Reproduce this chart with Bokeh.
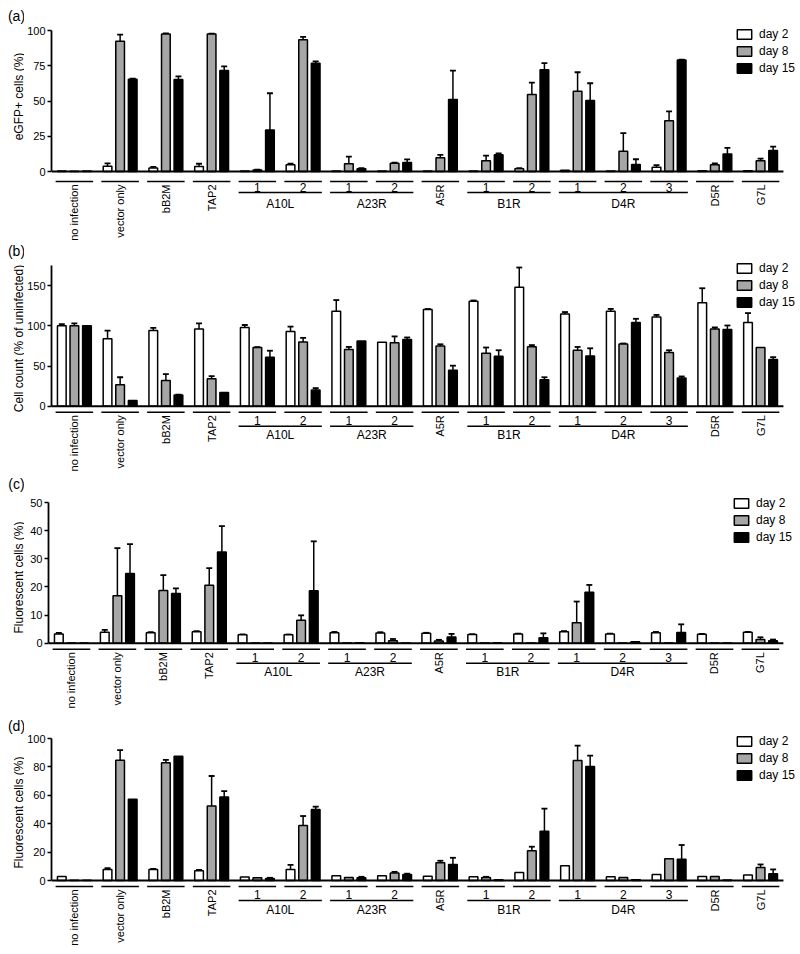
import numpy as np
from bokeh.plotting import figure
from bokeh.models import Range1d, FixedTicker, Legend, LegendItem, ColumnDataSource
from bokeh.layouts import column, row
from bokeh.embed import file_html
from bokeh.resources import INLINE
from bokeh.core.properties import value

# ---------------- data ----------------
categories = ["no infection", "vector only", "bB2M", "TAP2", "1", "2", "1", "2", "A5R",
              "1", "2", "1", "2", "3", "D5R", "G7L"]
parents = ["", "", "", "", "A10L", "A10L", "A23R", "A23R", "",
           "B1R", "B1R", "D4R", "D4R", "D4R", "", ""]
series_names = ["day 2", "day 8", "day 15"]
series_colors = ["#ffffff", "#a6a6a6", "#000000"]

# (a) eGFP+ cells (%)
a_d2 = [0.3, 3.8, 2.5, 3.5, 0.3, 4.8, 0.3, 0.3, 0.3, 0.3, 2.0, 0.8, 0.3, 3.0, 0.5, 0.5]
a_d2_err = [0, 2.0, 0.8, 2.0, 0, 0.8, 0, 0, 0, 0, 0.3, 0, 0, 1.5, 0, 0]
a_d8 = [0.1, 92.4, 97.5, 97.5, 1.0, 93.5, 5.5, 5.8, 9.7, 7.6, 54.6, 57.0, 14.4, 36.0, 4.7, 7.6]
a_d8_err = [0, 4.7, 0.4, 0.3, 0.3, 2.0, 5.0, 0.5, 2.1, 3.7, 8.5, 13.4, 12.8, 6.6, 1.0, 1.6]
a_d15 = [0.3, 65.5, 65.2, 71.6, 29.5, 76.8, 2.0, 6.4, 51.0, 11.8, 72.1, 50.4, 5.0, 79.0, 12.5, 14.9]
a_d15_err = [0, 0.3, 2.3, 2.9, 26.0, 1.3, 0.4, 2.2, 20.6, 1.0, 4.7, 12.2, 3.7, 0.3, 4.3, 2.8]

# (b) Cell count (% of uninfected)
b_d2 = [100, 84, 94, 96, 98, 93, 118, 79.6, 120.4, 130.5, 148, 114.6, 118, 111, 128.7, 104]
b_d2_err = [2, 10, 3.5, 7, 3, 6, 14, 0, 0.5, 1, 24.5, 2.5, 3, 2.5, 18, 11.8]
b_d8 = [100, 26.7, 32, 34, 73, 80, 70.4, 78.8, 75, 66, 73.8, 69.6, 77.5, 66.7, 96, 73]
b_d8_err = [3, 9.3, 8, 3.5, 0.5, 5, 3.3, 8, 2, 7, 2.2, 4.1, 0.5, 2.9, 2, 0]
b_d15 = [100, 7, 14, 17, 61, 20, 81, 83, 44.6, 62, 33, 62.5, 104, 35, 95.4, 58]
b_d15_err = [0, 0, 0.5, 0, 8, 2.5, 0, 2.5, 5.8, 7.6, 3, 9.5, 4.7, 2, 5, 3]

# (c) Fluorescent cells (%)
c_d2 = [3.3, 3.9, 3.7, 4.1, 3.0, 3.0, 3.7, 3.6, 3.5, 3.1, 3.3, 4.1, 3.3, 3.7, 3.2, 3.9]
c_d2_err = [0.4, 0.8, 0.2, 0.2, 0.1, 0.1, 0.3, 0.3, 0.2, 0.1, 0.1, 0.2, 0.1, 0.3, 0.1, 0.1]
c_d8 = [0.1, 16.9, 18.7, 20.6, 0.1, 8.2, 0.1, 0.9, 0.8, 0.1, 0.1, 7.3, 0.1, 0.1, 0.1, 1.3]
c_d8_err = [0, 16.9, 5.5, 6.1, 0, 1.7, 0, 0.6, 0.4, 0, 0, 7.5, 0, 0, 0, 0.8]
c_d15 = [0.1, 24.8, 17.7, 32.4, 0.1, 18.6, 0.2, 0.1, 2.2, 0.2, 1.9, 18.1, 0.5, 3.8, 0.1, 0.9]
c_d15_err = [0, 10.4, 1.8, 9.2, 0, 17.6, 0, 0, 1.1, 0, 1.6, 2.6, 0, 2.9, 0, 0.4]

# (d) Fluorescent cells (%)
d_d2 = [2.8, 7.8, 7.8, 6.8, 2.4, 7.8, 3.3, 3.3, 3.0, 2.6, 5.6, 10.4, 2.6, 4.2, 2.8, 3.8]
d_d2_err = [0, 0.9, 0.4, 0.7, 0, 3.2, 0, 0, 0, 0, 0, 0, 0, 0, 0, 0]
d_d8 = [0.2, 84.7, 83, 52.5, 1.9, 38.8, 2.1, 5.3, 12.5, 2.1, 21, 84.5, 2.1, 15.3, 2.8, 9.2]
d_d8_err = [0, 7.1, 2, 21.1, 0, 6.6, 0, 0.8, 1.4, 0.5, 2.8, 10.5, 0, 0, 0, 2.1]
d_d15 = [0.1, 57.2, 87.5, 58.8, 1.4, 50, 1.9, 4.3, 11.3, 0.5, 34.6, 80.2, 0.5, 15, 0.3, 4.7]
d_d15_err = [0, 0, 0, 4.2, 0.5, 2, 0.7, 0.5, 4.7, 0, 16, 7.8, 0, 10, 0, 3.1]

panel_tags = ["(a)", "(b)", "(c)", "(d)"]
panel_ylabels = ["eGFP+ cells (%)", "Cell count (% of uninfected)",
                 "Fluorescent cells (%)", "Fluorescent cells (%)"]
panel_ticks = [[0, 25, 50, 75, 100], [0, 50, 100, 150], [0, 10, 20, 30, 40, 50], [0, 20, 40, 60, 80, 100]]
panel_axis_top = [100, 175, 50, 100]

# ---------------- layout (pixels, page coordinates) ----------------
FONT = "Liberation Sans"
TOTAL_W = 800
STRIP_W = 24          # left strip holding panel tag + y-axis title
LEFT = 24             # room for tick labels
X0_PAGE = 48          # page x of category 0
PITCH = 45.93         # px per category
fig_top = [0, 241, 474, 712]
fig_h = [241, 233, 238, 242]
zero_y = [171, 405.7, 642.7, 880]
axis_top_y = [30, 265, 502, 738]
lab_offs = [(10, 16, 21, 32), (6, 14, 20, 29), (6, 14, 20, 29), (6, 14, 20, 29)]
tag_y = [15, 250, 483, 725]
ylabel_y = [96, 338, 577, 812]
legend_bottom = [75, 309, 544, 782]
LEG_LEFT = 732

BAR_W = 0.19
OFFS = [-0.275, 0.0, 0.275]
CAP = 0.065
UL = 0.41

panels_vals = [(a_d2, a_d8, a_d15), (b_d2, b_d8, b_d15), (c_d2, c_d8, c_d15), (d_d2, d_d8, d_d15)]
panels_errs = [(a_d2_err, a_d8_err, a_d15_err), (b_d2_err, b_d8_err, b_d15_err),
               (c_d2_err, c_d8_err, c_d15_err), (d_d2_err, d_d8_err, d_d15_err)]

n = len(categories)
xc = np.arange(n) + 0.5
main_w = TOTAL_W - STRIP_W
frame_w = main_w - LEFT
x_end = frame_w / PITCH

rows = []
for k in range(4):
    H = fig_h[k]
    s = (zero_y[k] - axis_top_y[k]) / panel_axis_top[k]
    ymax = (zero_y[k] - fig_top[k]) / s
    ymin = ymax - H / s

    # ---- left strip: panel tag and y-axis title ----
    st = figure(width=STRIP_W, height=H, x_range=Range1d(0, STRIP_W),
                y_range=Range1d(fig_top[k] + H, fig_top[k]),
                output_backend="svg", toolbar_location=None, x_axis_location=None, y_axis_location=None,
                min_border=0, outline_line_color=None)
    st.grid.grid_line_color = None
    st.text(x=[16], y=[tag_y[k]], text=[panel_tags[k]], text_align="center", text_baseline="middle",
            text_font=value(FONT), text_font_size="14px", text_color="black")
    st.text(x=[18], y=[ylabel_y[k]], text=[panel_ylabels[k]], angle=np.pi / 2,
            text_align="center", text_baseline="middle",
            text_font=value(FONT), text_font_size="12px", text_color="black")

    # ---- main chart ----
    p = figure(width=main_w, height=H, x_range=Range1d(0, x_end), y_range=Range1d(ymin, ymax),
               output_backend="svg", toolbar_location=None, x_axis_location=None,
               min_border_left=LEFT, min_border_right=0, min_border_top=0, min_border_bottom=0,
               outline_line_color=None, background_fill_color="white", border_fill_color="white")
    p.xgrid.grid_line_color = None
    p.ygrid.grid_line_color = None

    ax = p.yaxis[0]
    ax.ticker = FixedTicker(ticks=panel_ticks[k])
    ax.bounds = (0, panel_axis_top[k])
    ax.axis_line_width = 1.8
    ax.axis_line_color = "black"
    ax.major_tick_line_width = 1.5
    ax.major_tick_line_color = "black"
    ax.major_tick_out = 4
    ax.major_tick_in = 0
    ax.minor_tick_line_color = None
    ax.major_label_standoff = 2
    ax.major_label_text_font = FONT
    ax.major_label_text_font_size = "11px"
    ax.major_label_text_color = "black"

    renderers = []
    vals = panels_vals[k]
    errs = panels_errs[k]
    for j in range(3):
        x = xc + OFFS[j]
        top = np.array(vals[j], dtype=float)
        err = np.array(errs[j], dtype=float)
        m = err > 0
        up = top + err
        p.segment(x0=x[m], y0=top[m], x1=x[m], y1=up[m], line_color="black", line_width=1.5)
        p.segment(x0=x[m] - CAP, y0=up[m], x1=x[m] + CAP, y1=up[m], line_color="black", line_width=1.8)
        src = ColumnDataSource(dict(x=x, top=top))
        r = p.vbar(x="x", top="top", bottom=0, width=BAR_W, source=src,
                   fill_color=series_colors[j], line_color="black", line_width=1.5)
        renderers.append(r)

    # baseline (x axis line)
    p.segment(x0=[0], y0=[0], x1=[n], y1=[0], line_color="black", line_width=2)

    U, S, G, N = lab_offs[k]
    p.segment(x0=xc - UL, y0=np.full(n, -U / s), x1=xc + UL, y1=np.full(n, -U / s),
              line_color="black", line_width=1.5)
    single = [i for i in range(n) if parents[i] == ""]
    sub = [i for i in range(n) if parents[i] != ""]
    p.text(x=xc[single], y=np.full(len(single), -(U + 3) / s), text=[categories[i] for i in single],
           angle=np.pi / 2, text_align="right", text_baseline="middle",
           text_font=value(FONT), text_font_size="11px", text_color="black")
    p.text(x=xc[sub], y=np.full(len(sub), -S / s), text=[categories[i] for i in sub],
           text_align="center", text_baseline="middle",
           text_font=value(FONT), text_font_size="12px", text_color="black")
    gnames = []
    for g in parents:
        if g and g not in gnames:
            gnames.append(g)
    gx0, gx1, gxc = [], [], []
    for g in gnames:
        idx = [i for i in range(n) if parents[i] == g]
        gx0.append(xc[idx[0]] - UL)
        gx1.append(xc[idx[-1]] + UL)
        gxc.append((xc[idx[0]] + xc[idx[-1]]) / 2)
    p.segment(x0=gx0, y0=[-G / s] * len(gnames), x1=gx1, y1=[-G / s] * len(gnames),
              line_color="black", line_width=1.5)
    p.text(x=gxc, y=[-N / s] * len(gnames), text=gnames, text_align="center", text_baseline="middle",
           text_font=value(FONT), text_font_size="12px", text_color="black")

    frame_bottom = fig_top[k] + H
    legend = Legend(items=[LegendItem(label=series_names[j], renderers=[renderers[j]]) for j in range(3)],
                    location=(LEG_LEFT - X0_PAGE, frame_bottom - legend_bottom[k]),
                    padding=0, margin=0, border_line_color=None, background_fill_alpha=0,
                    glyph_width=18, glyph_height=12, label_height=12, spacing=3, label_standoff=6,
                    label_text_font=FONT, label_text_font_size="12px", label_text_color="black")
    p.add_layout(legend)
    rows.append(row(st, p, spacing=0))

layout = column(*rows, spacing=0)
open("out.html", "w").write(file_html(layout, INLINE))
